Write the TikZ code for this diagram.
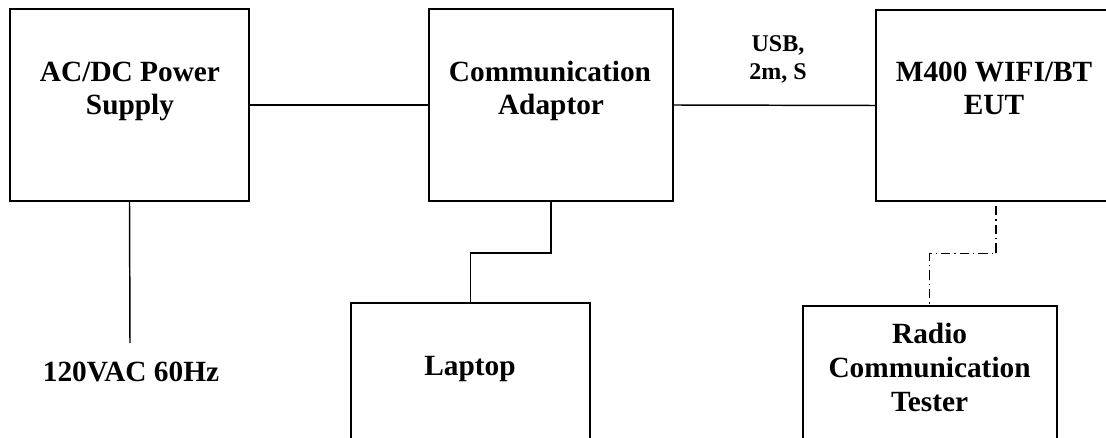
\documentclass[tikz,border=0pt]{standalone}
\usepackage{fontspec}
\setmainfont{Liberation Serif}
\begin{document}
\begin{tikzpicture}[x=0.75pt,y=-0.75pt,
  box/.style={draw=black,line width=1.5pt,rectangle,inner sep=0pt},
  txt/.style={anchor=base,inner sep=0pt,font=\fontsize{22}{26}\selectfont\bfseries},
  small/.style={anchor=base,inner sep=0pt,font=\fontsize{18}{21}\selectfont\bfseries},
  wire/.style={draw=black,line width=1.1pt},
  radiowire/.style={draw=black,line width=1.1pt,dash pattern=on 7pt off 3pt on 1pt off 3pt,dash phase=11pt}]
\useasboundingbox (0,0) rectangle (1106,438);
% boxes
\node[box,minimum width={239*0.75pt},minimum height={192*0.75pt}] (ps) at (129.5,105) {};
\node[box,minimum width={244*0.75pt},minimum height={192*0.75pt}] (ca) at (551,105) {};
\node[box,minimum width={236*0.75pt},minimum height={191*0.75pt}] (eut) at (994,105.5) {};
\node[box,minimum width={239.5*0.75pt},minimum height={160*0.75pt}] (lap) at (470.25,383) {};
\node[box,minimum width={254*0.75pt},minimum height={160*0.75pt}] (rad) at (929.6,385.5) {};
% texts
\node[txt] (ps1) at (130,82) {AC/DC Power};
\node[txt] (ps2) at (130,115) {Supply};
\node[txt] (ca1) at (550,82) {Communication};
\node[txt] (ca2) at (551,115) {Adaptor};
\node[txt] (eut1) at (994,82) {M400 WIFI/BT};
\node[txt] (eut2) at (994,115) {EUT};
\node[txt] (lap1) at (470,375) {Laptop};
\node[txt] (rad1) at (929.6,343) {Radio};
\node[txt] (rad2) at (929.6,377) {Communication};
\node[txt] (rad3) at (929.6,411.5) {Tester};
\node[txt] (vac) at (131,381.5) {120VAC 60Hz};
\node[small] (usb1) at (778,51.5) {USB,};
\node[small] (usb2) at (778,80) {2m, S};
% connectors
\coordinate (vacend) at (130,343);
\draw[wire] (ps.east) -- (ca.west);
\draw[wire] (ca.east) -- (eut.west);
\draw[wire] (ps.south) -- (vacend);
\draw[wire] (ca.south) -- ++(0,51) -| (lap.north);
\draw[radiowire] ([xshift=1.5pt]eut.south) -- ++(0,51.5) -| (rad.north);
\end{tikzpicture}
\end{document}
